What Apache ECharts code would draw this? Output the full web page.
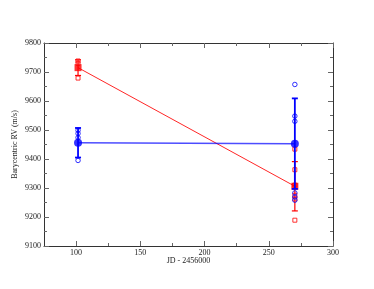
<!DOCTYPE html>
<html><head><meta charset="utf-8">
<script src="https://cdn.jsdelivr.net/npm/echarts@6/dist/echarts.min.js"></script>
<style>html,body{margin:0;padding:0;background:#fff}#c{width:374px;height:289px}</style>
</head><body><div id="c"></div>
<script>
// Epochs (JD - 2456000)
const epochX = [101.5, 270.3];
// Mean RVs and errors
const blueMean = [9456, 9453];
const blueErr = [51, 156];
const redMean = [9715, 9306];
const redErr = [27, 85];
// Individual measurements
const blueIndivX = [101.5, 101.5, 101.5, 101.5, 270.3, 270.3, 270.3, 270.3, 270.3, 270.3];
const blueIndivY = [9499, 9488, 9474, 9395, 9657, 9548, 9530, 9283, 9269, 9258];
const redIndivX = [101.5, 101.5, 101.5, 270.3, 270.3, 270.3, 270.3, 270.3, 270.3];
const redIndivY = [9738, 9730, 9679, 9434, 9363, 9310, 9275, 9262, 9189];
// Tick values
const xMajor = [100, 150, 200, 250, 300];
const xMinor = [125, 175, 225, 275];

const FONT = 'Liberation Serif';
const BLUE = '#0000ff', RED = '#ff0000';

function pairs(xs, ys) { return xs.map((x, i) => [x, ys[i]]); }
function errData(xs, m, e) { return xs.map((x, i) => [x, m[i] - e[i], m[i] + e[i]]); }
function errRender(color, width) {
  return function (params, api) {
    const x = api.value(0);
    const lo = api.coord([x, api.value(1)]);
    const hi = api.coord([x, api.value(2)]);
    const cw = 3;
    const st = { stroke: color, lineWidth: width, fill: null };
    return { type: 'group', children: [
      { type: 'line', shape: { x1: lo[0], y1: lo[1], x2: hi[0], y2: hi[1] }, style: st },
      { type: 'line', shape: { x1: lo[0] - cw, y1: lo[1], x2: lo[0] + cw, y2: lo[1] }, style: st },
      { type: 'line', shape: { x1: hi[0] - cw, y1: hi[1], x2: hi[0] + cw, y2: hi[1] }, style: st }
    ]};
  };
}

const lblStyle = { fontFamily: FONT, fontSize: 8, color: '#222' };
function xAx(pos, ticks, len, labels, line) {
  return {
    type: 'value', position: pos, min: 75, max: 300,
    axisLine: { show: line, lineStyle: { color: '#333', width: 1 } },
    axisTick: { show: true, inside: true, length: len, customValues: ticks, lineStyle: { color: '#666' } },
    axisLabel: labels ? Object.assign({ show: true, customValues: ticks, margin: 3 }, lblStyle) : { show: false },
    splitLine: { show: false }
  };
}

const chart = echarts.init(document.getElementById('c'), null, { renderer: 'canvas' });
chart.setOption({
  animation: false,
  backgroundColor: '#fff',
  grid: { left: 44, right: 41, top: 43, bottom: 43 },
  xAxis: [
    Object.assign(xAx('bottom', xMajor, 5, true, true), {
      name: 'JD - 2456000', nameLocation: 'middle', nameGap: 11, nameMoveOverlap: false,
      nameTextStyle: { fontFamily: FONT, fontSize: 8, color: '#222' }
    }),
    xAx('bottom', xMinor, 3, false, false),
    xAx('top', xMajor, 5, false, true),
    xAx('top', xMinor, 3, false, false)
  ],
  yAxis: [
    {
      type: 'value', position: 'left', min: 9100, max: 9800, interval: 100,
      name: 'Barycentric RV (m/s)', nameLocation: 'middle', nameGap: 25, nameMoveOverlap: false,
      nameTextStyle: { fontFamily: FONT, fontSize: 8, color: '#222' },
      axisLine: { show: true, lineStyle: { color: '#333' } },
      axisTick: { inside: true, length: 5, lineStyle: { color: '#666' } },
      minorTick: { show: true, splitNumber: 2, length: 3, lineStyle: { color: '#666' } },
      axisLabel: Object.assign({ margin: 3, formatter: v => String(v) }, lblStyle),
      splitLine: { show: false }
    },
    {
      type: 'value', position: 'right', min: 9100, max: 9800, interval: 100,
      axisLine: { show: true, lineStyle: { color: '#333' } },
      axisTick: { inside: true, length: 5, lineStyle: { color: '#666' } },
      minorTick: { show: true, splitNumber: 2, length: 3, lineStyle: { color: '#666' } },
      axisLabel: { show: false },
      splitLine: { show: false }
    }
  ],
  series: [
    { type: 'line', data: pairs(epochX, redMean), symbol: 'none',
      lineStyle: { color: RED, width: 1, opacity: 0.85 }, z: 2 },
    { type: 'custom', data: errData(epochX, redMean, redErr), renderItem: errRender(RED, 1.2),
      encode: { x: 0, y: [1, 2] }, z: 3 },
    { type: 'scatter', data: pairs(redIndivX, redIndivY), symbol: 'rect', symbolSize: 4,
      itemStyle: { color: 'rgba(255,255,255,0)', borderColor: RED, borderWidth: 1 }, z: 3 },
    { type: 'scatter', data: pairs(epochX, redMean), symbol: 'rect', symbolSize: 7,
      itemStyle: { color: RED }, z: 4 },
    { type: 'line', data: pairs(epochX, blueMean), symbol: 'none',
      lineStyle: { color: BLUE, width: 1.5, opacity: 0.7 }, z: 5 },
    { type: 'custom', data: errData(epochX, blueMean, blueErr), renderItem: errRender(BLUE, 1.8),
      encode: { x: 0, y: [1, 2] }, z: 6 },
    { type: 'scatter', data: pairs(blueIndivX, blueIndivY), symbol: 'circle', symbolSize: 4.5,
      itemStyle: { color: 'rgba(255,255,255,0)', borderColor: BLUE, borderWidth: 1 }, z: 6 },
    { type: 'scatter', data: pairs(epochX, blueMean), symbol: 'circle', symbolSize: 8,
      itemStyle: { color: BLUE }, z: 7 }
  ]
});
</script></body></html>
